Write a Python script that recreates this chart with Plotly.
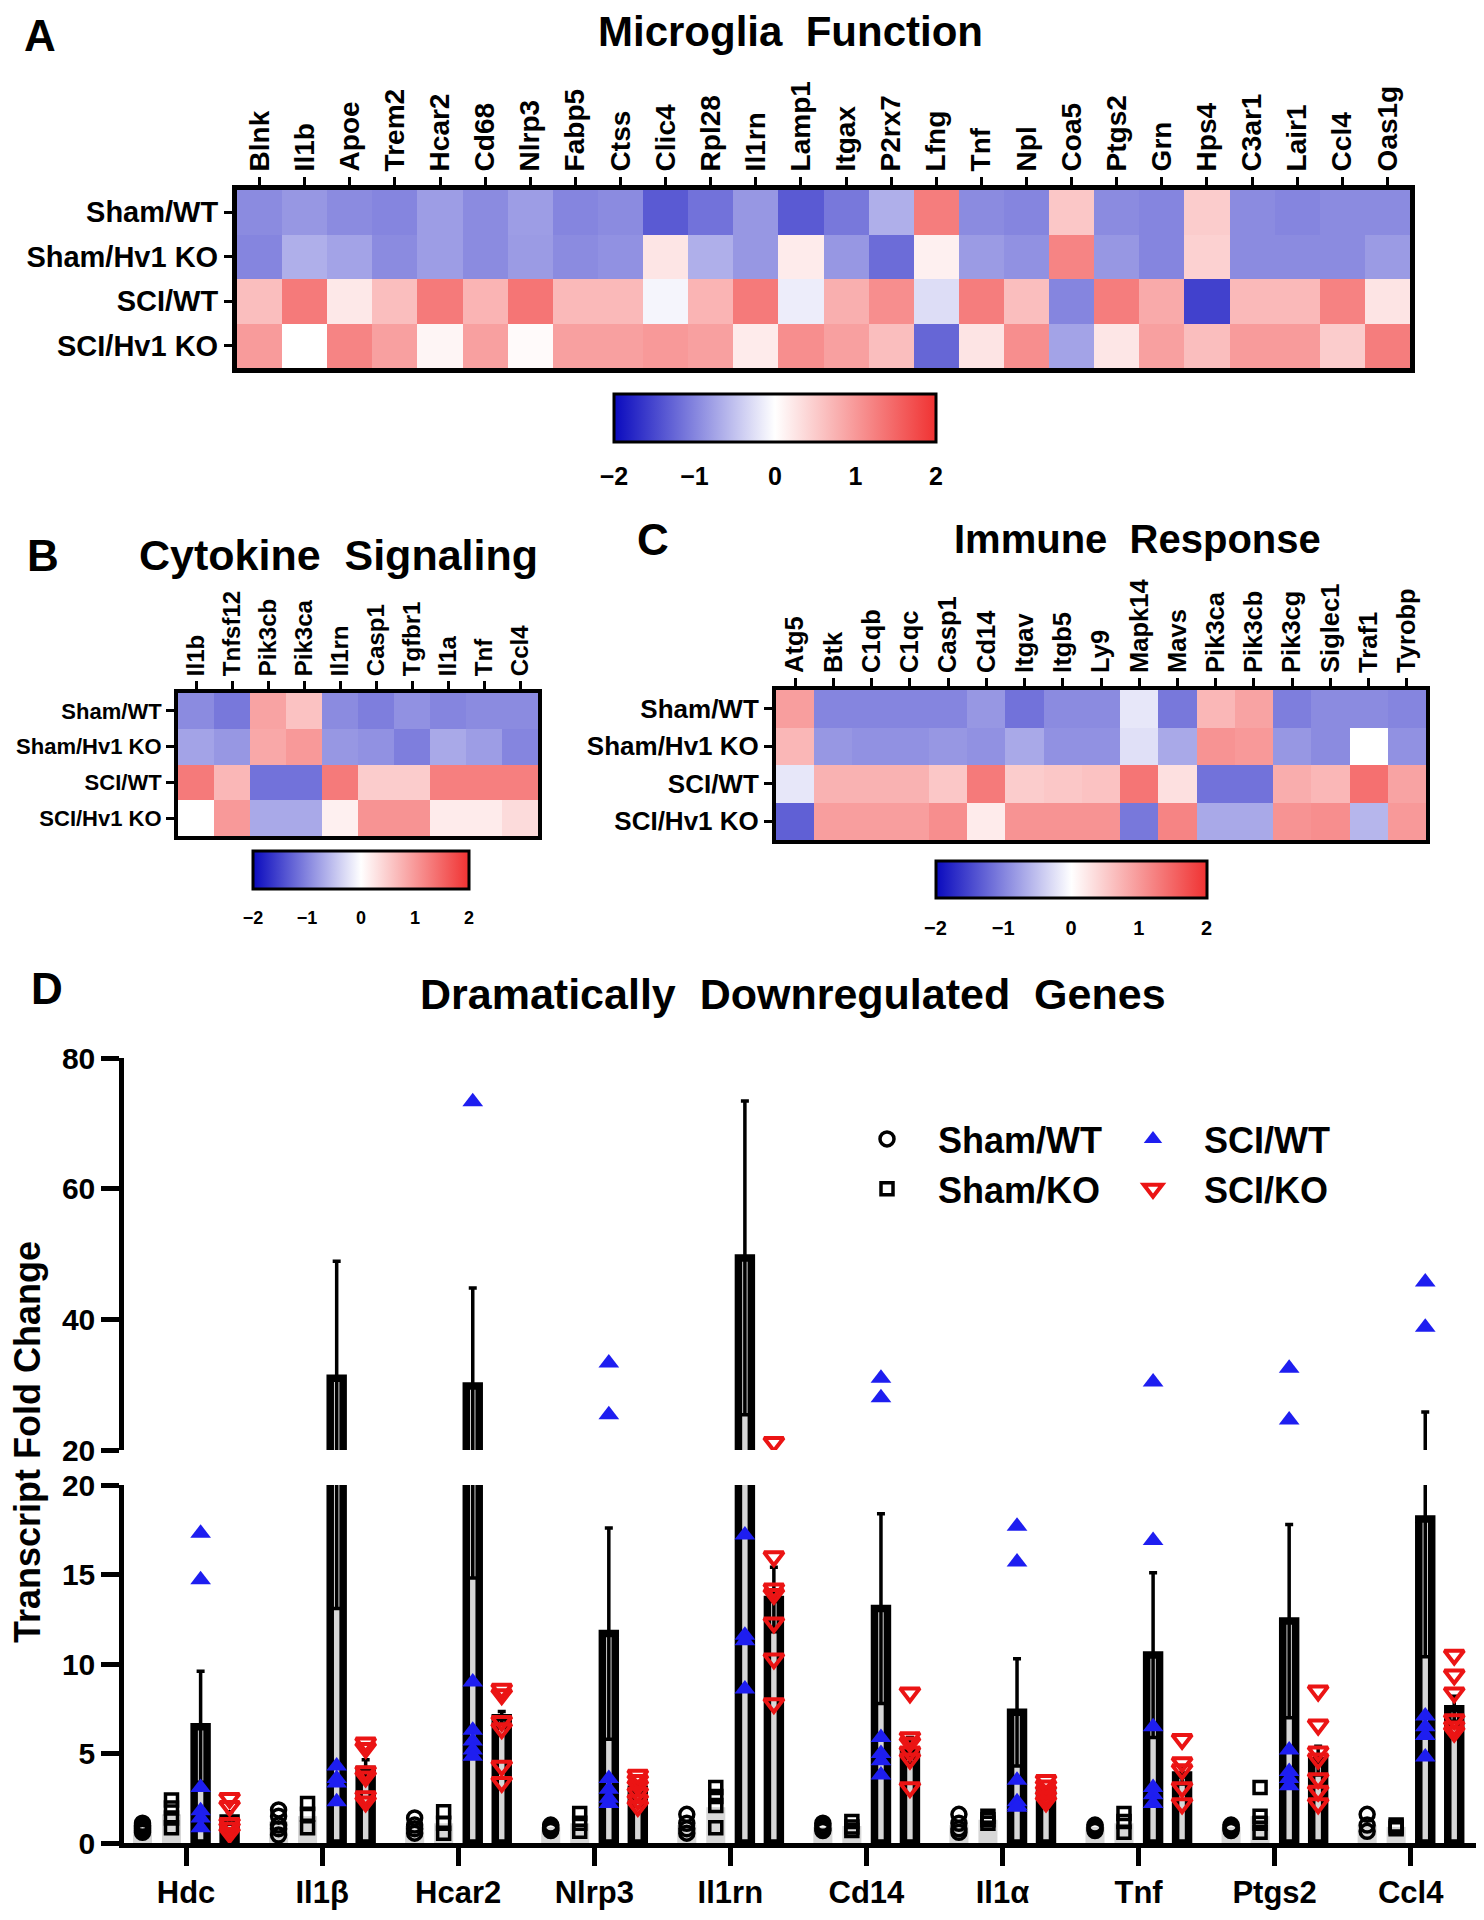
import plotly.graph_objects as go

# page offset of the figure inside the browser body (default 8px body margin)
OFF = 8
W, H = 1484 - 2 * OFF, 1920 - 2 * OFF
FONT = "Liberation Sans, Arial, sans-serif"

# ---------------- Heatmap data ----------------
rows = ["Sham/WT", "Sham/Hv1 KO", "SCI/WT", "SCI/Hv1 KO"]

cols_a = ["Blnk", "Il1b", "Apoe", "Trem2", "Hcar2", "Cd68", "Nlrp3", "Fabp5", "Ctss", "Clic4",
          "Rpl28", "Il1rn", "Lamp1", "Itgax", "P2rx7", "Lfng", "Tnf", "Npl", "Coa5", "Ptgs2",
          "Grn", "Hps4", "C3ar1", "Lair1", "Ccl4", "Oas1g"]
a_sham_wt = [-0.95, -0.85, -0.95, -1.0, -0.8, -0.95, -0.8, -1.0, -0.95, -1.35, -1.15, -0.85, -1.35,
             -1.1, -0.65, 1.27, -0.95, -1.0, 0.55, -0.95, -1.0, 0.5, -0.95, -1.0, -0.95, -0.95]
a_sham_ko = [-1.0, -0.65, -0.75, -0.95, -0.8, -0.95, -0.82, -0.95, -0.9, 0.25, -0.65, -0.85, 0.2,
             -0.85, -1.2, 0.15, -0.82, -0.9, 1.2, -0.85, -1.0, 0.45, -0.95, -0.95, -0.95, -0.82]
a_sci_wt = [0.63, 1.3, 0.22, 0.63, 1.3, 0.73, 1.35, 0.68, 0.68, -0.08, 0.73, 1.3, -0.15,
            0.78, 1.1, -0.28, 1.27, 0.63, -1.0, 1.27, 0.83, -1.55, 0.68, 0.68, 1.22, 0.26]
a_sci_ko = [0.98, 0.0, 1.2, 0.93, 0.1, 0.93, 0.05, 0.93, 0.93, 1.0, 0.93, 0.2, 1.1,
            0.93, 0.63, -1.25, 0.26, 1.1, -0.75, 0.24, 0.93, 0.63, 0.98, 0.98, 0.5, 1.27]

cols_b = ["Il1b", "Tnfsf12", "Pik3cb", "Pik3ca", "Il1rn", "Casp1", "Tgfbr1", "Il1a", "Tnf", "Ccl4"]
b_sham_wt = [-0.95, -1.1, 0.9, 0.6, -0.95, -1.05, -0.9, -1.0, -0.95, -0.95]
b_sham_ko = [-0.75, -0.85, 0.85, 1.0, -0.85, -0.9, -1.05, -0.7, -0.8, -1.0]
b_sci_wt = [1.3, 0.7, -1.15, -1.15, 1.3, 0.5, 0.5, 1.25, 1.25, 1.25]
b_sci_ko = [0.0, 1.0, -0.7, -0.7, 0.15, 1.05, 1.05, 0.2, 0.2, 0.35]

cols_c = ["Atg5", "Btk", "C1qb", "C1qc", "Casp1", "Cd14", "Itgav", "Itgb5", "Ly9", "Mapk14",
          "Mavs", "Pik3ca", "Pik3cb", "Pik3cg", "Siglec1", "Traf1", "Tyrobp"]
c_sham_wt = [0.95, -1.0, -1.0, -1.0, -1.0, -0.85, -1.15, -0.95, -0.95, -0.2, -1.1, 0.7, 0.9,
             -1.05, -0.95, -0.95, -1.0]
c_sham_ko = [0.7, -0.85, -0.9, -0.9, -0.85, -0.9, -0.7, -0.9, -0.9, -0.25, -0.7, 1.05, 1.0,
             -0.85, -0.95, 0.0, -0.9]
c_sci_wt = [-0.2, 0.75, 0.75, 0.75, 0.55, 1.3, 0.5, 0.55, 0.6, 1.35, 0.3, -1.15, -1.15,
            0.8, 0.7, 1.4, 0.9]
c_sci_ko = [-1.3, 0.95, 0.95, 0.95, 1.1, 0.2, 1.05, 1.05, 1.05, -1.1, 1.2, -0.7, -0.7,
            1.05, 1.1, -0.6, 1.0]

cbar_ticks = [-2, -1, 0, 1, 2]

# ---------------- Bar chart data (panel D) ----------------
genes_d = ["Hdc", "Il1β", "Hcar2", "Nlrp3", "Il1rn", "Cd14", "Il1α", "Tnf", "Ptgs2", "Ccl4"]
groups = ["Sham/WT", "Sham/KO", "SCI/WT", "SCI/KO"]

sham_wt_mean = [1.0, 1.2, 0.95, 0.9, 1.0, 0.9, 1.0, 0.9, 0.9, 1.0]
sham_ko_mean = [1.6, 1.5, 1.1, 1.1, 2.0, 0.95, 1.3, 1.1, 1.5, 0.9]
sci_wt_mean = [6.5, 31.0, 29.8, 11.7, 49.4, 13.1, 7.3, 10.5, 12.4, 18.1]
sci_wt_sem = [3.1, 17.9, 15.0, 5.9, 24.0, 5.3, 3.0, 4.6, 5.4, 7.7]
sci_ko_mean = [1.4, 4.1, 7.0, 3.0, 13.6, 5.2, 2.9, 3.8, 4.6, 7.5]
sci_ko_sem = [0.35, 0.55, 0.35, 0.25, 1.8, 0.7, 0.2, 0.5, 0.8, 0.7]

sham_wt_pts = [[1.1, 1.0, 0.9, 0.8, 0.7, 0.6], [1.85, 1.5, 1.0, 0.8, 0.45], [1.4, 1.0, 0.8, 0.55],
               [1.0, 0.9, 0.8, 0.7], [1.6, 1.1, 0.8, 0.55], [1.1, 0.95, 0.8, 0.7],
               [1.6, 1.1, 0.8, 0.6], [1.0, 0.9, 0.8, 0.7], [1.0, 0.9, 0.8, 0.7], [1.6, 1.0, 0.65]]
sham_ko_pts = [[2.4, 1.95, 1.4, 0.85], [2.2, 1.6, 0.85], [1.75, 1.1, 0.55], [1.65, 1.1, 0.65],
               [3.1, 2.6, 2.1, 0.85], [1.2, 0.9, 0.7], [1.5, 1.3, 1.1], [1.65, 1.2, 0.6],
               [3.1, 1.5, 1.1, 0.6], [1.0, 0.9, 0.8]]
sci_wt_pts = [[17.3, 14.7, 3.1, 1.8, 1.4, 0.85], [4.3, 3.6, 3.35, 2.3],
              [73.3, 9.0, 6.3, 5.7, 5.2, 4.85], [33.3, 25.4, 3.6, 3.0, 2.5, 2.2],
              [17.2, 11.6, 11.3, 8.6], [31.0, 28.0, 5.9, 5.0, 4.6, 3.8],
              [17.7, 15.7, 3.5, 2.3, 2.1, 2.0], [30.4, 16.9, 6.5, 3.1, 2.7, 2.2],
              [32.5, 24.6, 5.2, 4.0, 3.6, 3.2], [45.7, 38.8, 7.1, 6.5, 6.0, 4.8]]
sci_ko_pts = [[2.5, 2.05, 1.1, 0.85, 0.55], [5.6, 5.3, 4.0, 3.7, 2.6, 2.3],
              [8.6, 8.3, 6.8, 6.4, 4.3, 3.4], [3.8, 3.5, 3.2, 2.8, 2.4, 2.05],
              [21.2, 16.0, 14.2, 13.9, 12.3, 10.3, 7.8], [8.4, 5.9, 5.6, 5.1, 4.7, 3.1],
              [3.5, 3.2, 2.9, 2.6, 2.3], [5.8, 4.5, 4.1, 3.1, 2.2],
              [8.5, 6.6, 5.1, 4.7, 3.6, 2.9, 2.2], [10.5, 9.4, 8.4, 6.9, 6.5, 6.2]]

upper_ticks = [20, 40, 60, 80]
lower_ticks = [0, 5, 10, 15, 20]

# ---------------- helpers (page pixel -> paper fraction) ----------------
def fx(px):
    return (px - OFF) / W


def fy(py):
    return 1 - (py - OFF) / H


def f(size, weight="bold"):
    return dict(family=FONT, size=size, color="black", weight=weight)


colorscale = [[0.0, "rgb(10,10,190)"], [0.5, "rgb(255,255,255)"], [1.0, "rgb(240,50,50)"]]

fig = go.Figure()


def add_heatmap(z, cols, xa, ya, cb_x, cb_y, cb_len, cb_th, cb_font):
    fig.add_trace(go.Heatmap(
        z=z, x=cols, y=rows, xaxis=xa, yaxis=ya, colorscale=colorscale, zmin=-2, zmax=2,
        hoverongaps=False,
        colorbar=dict(orientation="h", x=fx(cb_x), xanchor="center", y=fy(cb_y), yanchor="top",
                      lenmode="pixels", len=cb_len, thickness=cb_th, outlinewidth=3,
                      outlinecolor="black", xpad=0, ypad=0, tickvals=cbar_ticks,
                      ticks="outside", ticklen=12, tickcolor="rgba(0,0,0,0)",
                      tickfont=f(cb_font))))


add_heatmap([a_sham_wt, a_sham_ko, a_sci_wt, a_sci_ko], cols_a, "x", "y", 775, 394, 322, 48, 25)
add_heatmap([b_sham_wt, b_sham_ko, b_sci_wt, b_sci_ko], cols_b, "x2", "y2", 361, 851, 216, 38, 18)
add_heatmap([c_sham_wt, c_sham_ko, c_sci_wt, c_sci_ko], cols_c, "x3", "y3", 1071, 861, 271, 37, 20)

# ---------------- panel D ----------------
slot = [-0.32, -0.107, 0.107, 0.32]
idx = list(range(len(genes_d)))
sham_w = 0.14
sci_w = 0.095

means = [sham_wt_mean, sham_ko_mean, sci_wt_mean, sci_ko_mean]
sems = [None, None, sci_wt_sem, sci_ko_sem]
pts = [sham_wt_pts, sham_ko_pts, sci_wt_pts, sci_ko_pts]
markers = [
    dict(symbol="circle-open", size=14, color="black", line=dict(width=3.5, color="black")),
    dict(symbol="square-open", size=12, color="black", line=dict(width=3.5, color="black")),
    dict(symbol="triangle-up", size=18, color="rgb(30,30,240)", line=dict(width=0)),
    dict(symbol="triangle-down-open", size=17, color="rgb(235,20,20)",
         line=dict(width=4, color="rgb(235,20,20)")),
]
legend_of = ["legend", "legend", "legend2", "legend2"]

for xa, ya, show in [("x4", "y4", False), ("x5", "y5", True)]:
    for g in range(4):
        sci = g >= 2
        w = sci_w if sci else sham_w
        bar_kw = dict(
            x=idx, y=means[g], width=w, offset=slot[g] - w / 2, xaxis=xa, yaxis=ya,
            marker=dict(color="rgb(215,215,215)",
                        line=dict(width=7.5 if sci else 0, color="black")),
            showlegend=False, hoverinfo="skip")
        if sems[g] is not None:
            bar_kw["error_y"] = dict(type="data", array=sems[g], symmetric=True, color="black",
                                     thickness=3.5, width=4)
        fig.add_trace(go.Bar(**bar_kw))
    for g in range(4):
        xs, ys = [], []
        for i, vals in enumerate(pts[g]):
            xs += [i + slot[g]] * len(vals)
            ys += vals
        fig.add_trace(go.Scatter(
            x=xs, y=ys, mode="markers", marker=markers[g], name=groups[g], xaxis=xa, yaxis=ya,
            showlegend=show, legend=legend_of[g], cliponaxis=True))

xr = [-0.456, 9.48]
heat_x = dict(side="top", tickangle=-90, ticks="outside", ticklen=8, tickwidth=3,
              tickcolor="black", showline=True, linecolor="black", mirror=True,
              showgrid=False, zeroline=False)
heat_y = dict(autorange="reversed", ticks="outside", ticklen=8, tickwidth=3, tickcolor="black",
              showline=True, linecolor="black", mirror=True, showgrid=False, zeroline=False)

fig.update_layout(
    width=W, height=H, margin=dict(l=0, r=0, t=0, b=0, autoexpand=False),
    paper_bgcolor="white", plot_bgcolor="white", barmode="overlay",
    font=dict(family=FONT, color="black"),
    xaxis=dict(domain=[fx(237), fx(1410)], anchor="y", linewidth=5, tickfont=f(28), **heat_x),
    yaxis=dict(domain=[fy(368), fy(190)], anchor="x", linewidth=5, tickfont=f(29), **heat_y),
    xaxis2=dict(domain=[fx(178), fx(538)], anchor="y2", linewidth=4, tickfont=f(24), **heat_x),
    yaxis2=dict(domain=[fy(836), fy(693)], anchor="x2", linewidth=4, tickfont=f(22), **heat_y),
    xaxis3=dict(domain=[fx(776), fx(1426)], anchor="y3", linewidth=4, tickfont=f(25.5), **heat_x),
    yaxis3=dict(domain=[fy(840), fy(690)], anchor="x3", linewidth=4, tickfont=f(26), **heat_y),
    xaxis4=dict(domain=[fx(124), fx(1476)], anchor="y4", range=xr, visible=False,
                showgrid=False, zeroline=False),
    yaxis4=dict(domain=[fy(1450), fy(1058)], anchor="x4", range=[20, 80], tickvals=upper_ticks,
                showline=True, linewidth=4.5, linecolor="black", ticks="outside", ticklen=18,
                tickwidth=4.5, tickcolor="black", showgrid=False, zeroline=False,
                tickfont=f(30)),
    xaxis5=dict(domain=[fx(124), fx(1476)], anchor="y5", range=xr, tickvals=idx,
                ticktext=genes_d, showline=True, linewidth=5, linecolor="black",
                ticks="outside", ticklen=18, tickwidth=4.5, tickcolor="black", showgrid=False,
                zeroline=False, tickfont=f(31)),
    yaxis5=dict(domain=[fy(1843), fy(1485)], anchor="x5", range=[0, 20], tickvals=lower_ticks,
                showline=True, linewidth=4.5, linecolor="black", ticks="outside", ticklen=18,
                tickwidth=4.5, tickcolor="black", showgrid=False, zeroline=False,
                tickfont=f(30)),
    legend=dict(x=fx(836), y=fy(1109), xanchor="left", yanchor="top", font=f(36),
                itemwidth=92, bgcolor="rgba(0,0,0,0)", tracegroupgap=0, itemsizing="trace"),
    legend2=dict(x=fx(1102), y=fy(1109), xanchor="left", yanchor="top", font=f(36),
                 itemwidth=92, bgcolor="rgba(0,0,0,0)", tracegroupgap=0, itemsizing="trace"),
)

annos = [
    ("A", 40, 36, 44), ("B", 43, 555, 44), ("C", 653, 539, 44), ("D", 47, 989, 44),
    ("Microglia  Function", 790, 32, 42), ("Cytokine  Signaling", 338, 555, 43),
    ("Immune  Response", 1137, 539, 40), ("Dramatically  Downregulated  Genes", 793, 994, 43),
]
for text, x, y, s in annos:
    fig.add_annotation(text=text.replace("  ", "\u00a0\u00a0"), x=fx(x), y=fy(y), xref="paper",
                       yref="paper", showarrow=False, font=f(s), xanchor="center",
                       yanchor="middle")

fig.add_annotation(text="Transcript Fold Change", x=fx(27), y=fy(1442), xref="paper",
                   yref="paper", showarrow=False, font=f(36), textangle=-90,
                   xanchor="center", yanchor="middle")

fig.write_html("out.html")
